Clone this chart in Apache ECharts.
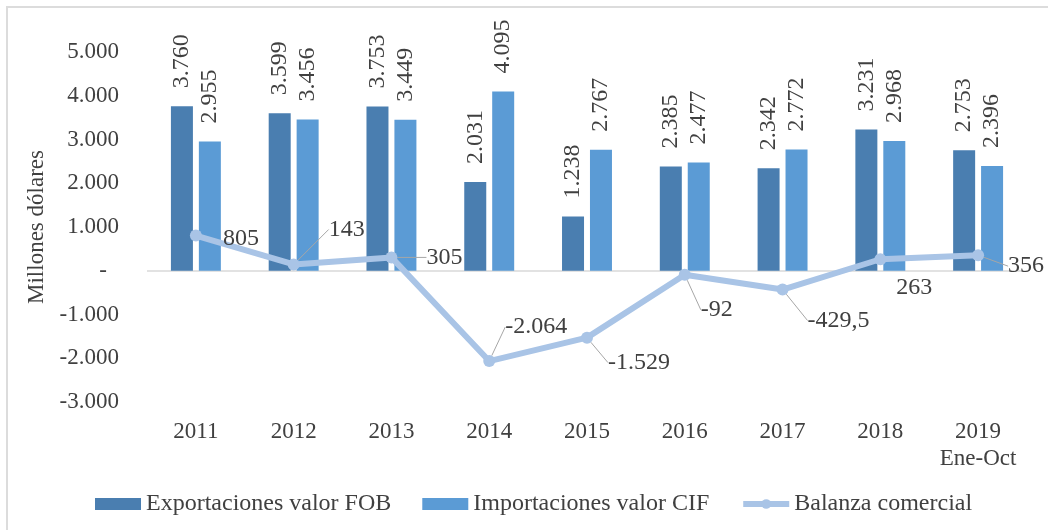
<!DOCTYPE html>
<html lang="es">
<head>
    <meta charset="UTF-8">
    <title>Balanza comercial</title>
    <script src="https://cdn.jsdelivr.net/npm/echarts@6/dist/echarts.min.js"></script>
    <style>
        * {
            margin: 0;
            padding: 0;
        }

        html,
        body {
            width: 100%;
            height: 100%;
            background: #fff;
        }
    </style>
</head>
<body>
    <div id="main" style="width: 1048px;height:530px;"></div>
</body>
<script>
    var years = ['2011', '2012', '2013', '2014', '2015', '2016', '2017', '2018', '2019\nEne-Oct'];
    var exportaciones = [3760, 3599, 3753, 2031, 1238, 2385, 2342, 3231, 2753];
    var importaciones = [2955, 3456, 3449, 4095, 2767, 2477, 2772, 2968, 2396];
    var balanza = [805, 143, 305, -2064, -1529, -92, -429.5, 263, 356];
    var yTicks = { min: -3000, max: 5000, step: 1000 };

    // desplazamiento de las etiquetas de la linea (dx, dy) y si llevan guia
    var balLabelMove = [
        [16, 3, false], [24, -35, true], [24, 0, true], [5, -34, true], [10, 25, true],
        [5, 35, true], [14, 31, true], [5, 28, false], [19, 11, true]
    ];

    var txt = '#404040';
    var serif = '"Liberation Serif", "Times New Roman", serif';

    // 3760 -> 3.760 ; -429.5 -> -429,5
    function fmt(v) {
        var parts = Math.abs(v).toString().split('.');
        var ent = parts[0].replace(/\B(?=(\d{3})+(?!\d))/g, '.');
        var s = parts.length > 1 ? ent + ',' + parts[1] : ent;
        return (v < 0 ? '-' : '') + s;
    }

    var balData = balanza.map(function (v, i) {
        return { value: v, labelLine: { show: balLabelMove[i][2] } };
    });

    var barLabel = {
        show: true,
        position: 'top',
        distance: 18,
        rotate: 90,
        align: 'left',
        verticalAlign: 'middle',
        fontSize: 24,
        color: txt,
        fontFamily: serif,
        formatter: function (p) { return fmt(p.value); }
    };

    var myChart = echarts.init(document.getElementById('main'));
    myChart.setOption({
        animation: false,
        textStyle: { fontFamily: serif, color: txt },
        graphic: [{
            type: 'rect',
            shape: { x: 7, y: 7, width: 1100, height: 600 },
            style: { fill: 'none', stroke: '#dcdcdc', lineWidth: 2 },
            silent: true
        }],
        grid: { left: 147, right: 21, top: 52, bottom: 128, containLabel: false },
        legend: {
            left: 90,
            top: 487,
            itemWidth: 46,
            itemHeight: 12,
            itemGap: 31,
            textStyle: { fontFamily: serif, fontSize: 24, color: txt },
            data: [
                { name: 'Exportaciones valor FOB', icon: 'rect' },
                { name: 'Importaciones valor CIF', icon: 'rect' },
                { name: 'Balanza comercial', lineStyle: { width: 6 } }
            ]
        },
        xAxis: {
            type: 'category',
            data: years,
            axisLine: { show: false, onZero: false },
            axisTick: { show: false },
            axisLabel: {
                interval: 0,
                margin: 16,
                fontSize: 23,
                lineHeight: 27,
                color: txt,
                fontFamily: serif
            }
        },
        yAxis: {
            type: 'value',
            min: yTicks.min,
            max: yTicks.max,
            interval: yTicks.step,
            name: 'Millones dólares',
            nameLocation: 'middle',
            nameGap: 98,
            nameTextStyle: { fontSize: 23, color: txt, fontFamily: serif },
            axisLine: { show: false },
            axisTick: { show: false },
            splitLine: {
                show: true,
                lineStyle: {
                    // solo la linea del cero
                    color: ['rgba(0,0,0,0)', 'rgba(0,0,0,0)', 'rgba(0,0,0,0)', '#d9d9d9',
                        'rgba(0,0,0,0)', 'rgba(0,0,0,0)', 'rgba(0,0,0,0)', 'rgba(0,0,0,0)', 'rgba(0,0,0,0)'],
                    width: 1.5
                }
            },
            axisLabel: {
                margin: 28,
                fontSize: 23,
                color: txt,
                fontFamily: serif,
                formatter: function (v) {
                    return v === 0 ? '{z|-}' : fmt(v);
                },
                rich: {
                    z: { fontSize: 23, color: txt, fontFamily: serif, padding: [0, 12, 0, 0] }
                }
            }
        },
        series: [
            {
                name: 'Exportaciones valor FOB',
                type: 'bar',
                data: exportaciones,
                barWidth: 22,
                barGap: '27%',
                itemStyle: { color: '#4a7eb0' },
                label: barLabel
            },
            {
                name: 'Importaciones valor CIF',
                type: 'bar',
                data: importaciones,
                barWidth: 22,
                barGap: '27%',
                itemStyle: { color: '#5b9bd5' },
                label: barLabel
            },
            {
                name: 'Balanza comercial',
                type: 'line',
                data: balData,
                z: 5,
                symbol: 'circle',
                symbolSize: 12,
                lineStyle: { color: '#a9c4e6', width: 6 },
                itemStyle: { color: '#a9c4e6' },
                label: {
                    show: true,
                    position: 'right',
                    distance: 5,
                    fontSize: 24,
                    color: txt,
                    fontFamily: serif,
                    formatter: function (p) { return fmt(p.value); }
                },
                labelLine: {
                    show: true,
                    lineStyle: { color: '#a6a6a6', width: 1 }
                },
                labelLayout: function (p) {
                    var m = balLabelMove[p.dataIndex];
                    return { dx: m[0], dy: m[1] };
                }
            }
        ]
    });
</script>
</html>
